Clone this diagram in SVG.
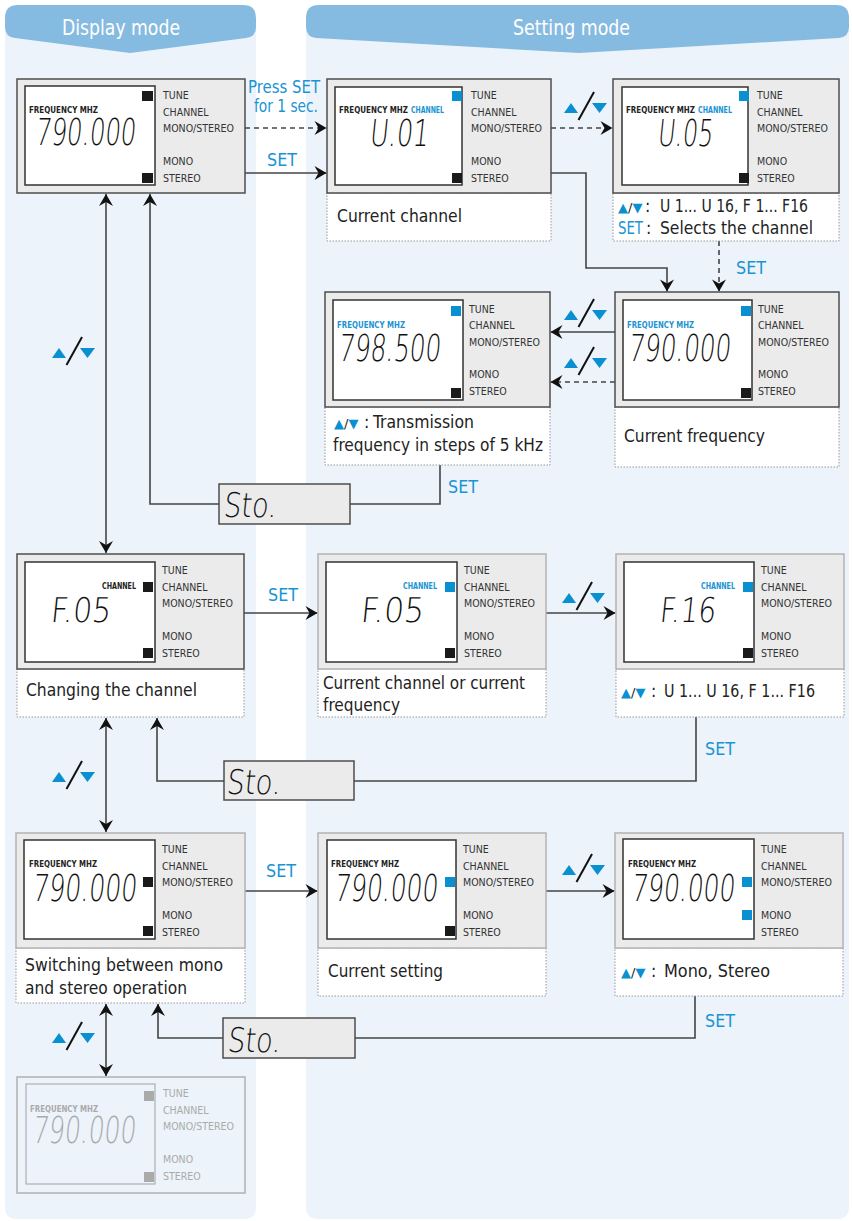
<svg xmlns="http://www.w3.org/2000/svg" width="852" height="1221" viewBox="0 0 852 1221">
<style>
.panel{fill:#ecf3fa}
.banner{fill:#86bbe1}
.c{font-family:'DejaVu Sans Condensed','DejaVu Sans',sans-serif;font-stretch:condensed}
.title{font-size:22px;fill:#fff}
.dev{fill:#ebebeb;stroke:#4d4d4d;stroke-width:1.5}
.dev2{fill:#ebebeb;stroke:#b3b3b3;stroke-width:1.5}
.devf{fill:#ecf3fa;stroke:#b0b0b0;stroke-width:1.5}
.lcd{fill:#fff;stroke:#333;stroke-width:1.5}
.lcdf{fill:#ecf3fa;stroke:#b0b0b0;stroke-width:1.2}
.lbl{font-size:10.5px;fill:#333}
.lblf{font-size:10.5px;fill:#aaa}
.fq{font-size:8.5px;font-weight:bold;fill:#222}
.fqb{font-size:8.5px;font-weight:bold;fill:#1a93d3}
.fqf{font-size:8.5px;font-weight:bold;fill:#aaa}
.seg{font-family:'DejaVu Sans',sans-serif;font-weight:200;font-size:37px;fill:#111}
.segs{font-family:'DejaVu Sans',sans-serif;font-weight:200;font-size:34px;fill:#111}
.segf{font-family:'DejaVu Sans',sans-serif;font-weight:200;font-size:37px;fill:#aaa}
.cap{fill:#fff;stroke:#999;stroke-width:1;stroke-dasharray:1.5 1.5}
.ct{font-size:17.5px;fill:#222}
.tri{font-family:'DejaVu Sans',sans-serif;font-size:13px}
.set{font-size:18px;fill:#1a93d3}
.k{fill:#1a1a1a}
.b{fill:#0a8fd0}
.g{fill:#aaa}
.conn{fill:none;stroke:#444;stroke-width:1.6}
.dash{stroke-dasharray:5 4}
.arr{marker-end:url(#ah)}
.arr2{marker-start:url(#ah);marker-end:url(#ah)}
.sto{fill:#ebebeb;stroke:#4d4d4d;stroke-width:1.5}
</style>
<defs>
<marker id="ah" viewBox="-13 -8 14 16" refX="0" refY="0" markerWidth="14" markerHeight="16" markerUnits="userSpaceOnUse" orient="auto-start-reverse"><path d="M0,0 L-12,-7 L-8,0 L-12,7 Z" fill="#111"/></marker>
<symbol id="ud" viewBox="0 0 44 28" overflow="visible">
<polygon points="0,21 7,11 14,21" fill="#0a8fd0"/>
<line x1="14.5" y1="28" x2="30" y2="0" stroke="#111" stroke-width="2"/>
<polygon points="28,11 43,11 35.5,21" fill="#0a8fd0"/>
</symbol>
</defs>

<rect width="852" height="1221" fill="#fff"/>
<g id="panels">
<path class="panel" d="M5,20 V1207 Q5,1219 17,1219 H244 Q256,1219 256,1207 V20 Z"/>
<path class="panel" d="M306,20 V1207 Q306,1219 318,1219 H837 Q849,1219 849,1207 V20 Z"/>
<path class="banner" d="M5,18 Q5,5 18,5 L243,5 Q256,5 256,18 L256,27 Q256,37 246,38 L130,53 L15,38 Q5,37 5,27 Z"/>
<path class="banner" d="M306,18 Q306,5 319,5 L836,5 Q849,5 849,18 L849,27 Q849,37 839,38 L579,53 L316,38 Q306,37 306,27 Z"/>
<text class="c title" x="62" y="35" textLength="118" lengthAdjust="spacingAndGlyphs">Display mode</text>
<text class="c title" x="513" y="35" textLength="117" lengthAdjust="spacingAndGlyphs">Setting mode</text>
</g>

<g id="connectors">
<path class="conn dash arr" d="M245,128 H326.5"/>
<path class="conn arr" d="M245,173 H326.5"/>
<path class="conn dash arr" d="M551,128 H612.5"/>
<path class="conn arr" d="M551,173 H586 V268 H667 V291.5"/>
<path class="conn dash arr" d="M719,241 V291.5"/>
<path class="conn arr" d="M615,332 H550.5"/>
<path class="conn dash arr" d="M615,382 H550.5"/>
<path class="conn" d="M440,465 V504 H350"/>
<path class="conn arr" d="M219,504 H150 V194"/>
<path class="conn arr2" d="M106,194 V553"/>
<path class="conn arr" d="M244,613 H317.5"/>
<path class="conn arr" d="M546,613 H615.5"/>
<path class="conn" d="M696,717 V781 H354"/>
<path class="conn arr" d="M224,781 H157 V718"/>
<path class="conn arr2" d="M106,718 V832"/>
<path class="conn arr" d="M245,891 H317.5"/>
<path class="conn arr" d="M546,891 H614.5"/>
<path class="conn" d="M695,996 V1038 H355"/>
<path class="conn arr" d="M223,1038 H158 V1004"/>
<path class="conn arr2" d="M106,1004 V1076"/>
</g>

<g id="connector-labels">
<text class="c set" x="248" y="93" textLength="72" lengthAdjust="spacingAndGlyphs">Press SET</text>
<text class="c set" x="254" y="112" textLength="64" lengthAdjust="spacingAndGlyphs">for 1 sec.</text>
<text class="c set" x="267" y="166" textLength="30" lengthAdjust="spacingAndGlyphs">SET</text>
<text class="c set" x="736" y="274" textLength="30" lengthAdjust="spacingAndGlyphs">SET</text>
<text class="c set" x="448" y="493" textLength="30" lengthAdjust="spacingAndGlyphs">SET</text>
<text class="c set" x="268" y="601" textLength="30" lengthAdjust="spacingAndGlyphs">SET</text>
<text class="c set" x="705" y="755" textLength="30" lengthAdjust="spacingAndGlyphs">SET</text>
<text class="c set" x="266" y="877" textLength="30" lengthAdjust="spacingAndGlyphs">SET</text>
<text class="c set" x="705" y="1027" textLength="30" lengthAdjust="spacingAndGlyphs">SET</text>
<use href="#ud" x="564" y="92" width="44" height="28"/>
<use href="#ud" x="564" y="299" width="44" height="28"/>
<use href="#ud" x="564" y="347" width="44" height="28"/>
<use href="#ud" x="52" y="337" width="44" height="28"/>
<use href="#ud" x="562" y="582" width="44" height="28"/>
<use href="#ud" x="52" y="761" width="44" height="28"/>
<use href="#ud" x="562" y="854" width="44" height="28"/>
<use href="#ud" x="52" y="1022" width="44" height="28"/>
</g>

<g id="sto1">
<rect class="sto" x="219" y="484" width="131" height="40"/>
<g transform="translate(223,517) skewX(-6)"><text class="segs" x="0" y="0" textLength="53" lengthAdjust="spacingAndGlyphs">Sto.</text></g>
</g>
<g id="sto2">
<rect class="sto" x="224" y="761" width="130" height="39"/>
<g transform="translate(226,794) skewX(-6)"><text class="segs" x="0" y="0" textLength="54" lengthAdjust="spacingAndGlyphs">Sto.</text></g>
</g>
<g id="sto3">
<rect class="sto" x="223" y="1018" width="132" height="40"/>
<g transform="translate(227,1052) skewX(-6)"><text class="segs" x="0" y="0" textLength="53" lengthAdjust="spacingAndGlyphs">Sto.</text></g>
</g>

<g id="d1-display-frequency">
<rect class="dev" x="17" y="79" width="228" height="114"/>
<rect class="lcd" x="25" y="86" width="130" height="99"/>
<rect class="k" x="142" y="91" width="11" height="10"/>
<rect class="k" x="142" y="173" width="11" height="10"/>
<text class="c fq" x="29" y="113" textLength="69" lengthAdjust="spacingAndGlyphs">FREQUENCY MHZ</text>
<g transform="translate(35,145) skewX(-6)"><text class="seg" x="0" y="0" textLength="100" lengthAdjust="spacingAndGlyphs">790.000</text></g>
<text class="c lbl"><tspan x="163" y="99">TUNE</tspan><tspan x="163" y="115.5">CHANNEL</tspan><tspan x="163" y="132">MONO/STEREO</tspan><tspan x="163" y="164.5">MONO</tspan><tspan x="163" y="181.5">STEREO</tspan></text>
</g>

<g id="d2-current-channel">
<rect class="cap" x="327" y="193" width="224" height="48"/>
<rect class="dev" x="327" y="79" width="224" height="114"/>
<rect class="lcd" x="335" y="87" width="127" height="98"/>
<rect class="b" x="452" y="91" width="10" height="10"/>
<rect class="k" x="452" y="173" width="10" height="10"/>
<text class="c fq" x="339" y="113" textLength="69" lengthAdjust="spacingAndGlyphs">FREQUENCY MHZ</text>
<text class="c fqb" x="411" y="113" textLength="33" lengthAdjust="spacingAndGlyphs">CHANNEL</text>
<g transform="translate(369,146) skewX(-6)"><text class="seg" x="0" y="0" textLength="59" lengthAdjust="spacingAndGlyphs">U.01</text></g>
<text class="c lbl"><tspan x="471" y="99">TUNE</tspan><tspan x="471" y="115.5">CHANNEL</tspan><tspan x="471" y="132">MONO/STEREO</tspan><tspan x="471" y="164.5">MONO</tspan><tspan x="471" y="181.5">STEREO</tspan></text>
<text class="c ct" x="337" y="222" textLength="125" lengthAdjust="spacingAndGlyphs">Current channel</text>
</g>

<g id="d3-channel-select">
<rect class="cap" x="613" y="193" width="226" height="48"/>
<rect class="dev" x="613" y="79" width="226" height="114"/>
<rect class="lcd" x="622" y="87" width="126" height="98"/>
<rect class="b" x="739" y="91" width="10" height="10"/>
<rect class="k" x="739" y="173" width="10" height="10"/>
<text class="c fq" x="626" y="113" textLength="69" lengthAdjust="spacingAndGlyphs">FREQUENCY MHZ</text>
<text class="c fqb" x="698" y="113" textLength="34" lengthAdjust="spacingAndGlyphs">CHANNEL</text>
<g transform="translate(657,146) skewX(-6)"><text class="seg" x="0" y="0" textLength="55" lengthAdjust="spacingAndGlyphs">U.05</text></g>
<text class="c lbl"><tspan x="757" y="99">TUNE</tspan><tspan x="757" y="115.5">CHANNEL</tspan><tspan x="757" y="132">MONO/STEREO</tspan><tspan x="757" y="164.5">MONO</tspan><tspan x="757" y="181.5">STEREO</tspan></text>
<text class="tri" x="618" y="212"><tspan fill="#0a8fd0">▲</tspan><tspan fill="#222">/</tspan><tspan fill="#0a8fd0">▼</tspan></text>
<text class="c ct" x="645" y="212">:</text>
<text class="c ct" x="660" y="212" textLength="148" lengthAdjust="spacingAndGlyphs">U 1... U 16, F 1... F16</text>
<text class="c ct" x="618" y="234" textLength="25" lengthAdjust="spacingAndGlyphs" style="fill:#1a93d3">SET</text>
<text class="c ct" x="646" y="234">:</text>
<text class="c ct" x="660" y="234" textLength="153" lengthAdjust="spacingAndGlyphs">Selects the channel</text>
</g>

<g id="d4-transmission-frequency">
<rect class="cap" x="325" y="407" width="225" height="58"/>
<rect class="dev" x="325" y="292" width="225" height="115"/>
<rect class="lcd" x="333" y="300" width="130" height="100"/>
<rect class="b" x="451" y="306" width="10" height="10"/>
<rect class="k" x="451" y="388" width="10" height="10"/>
<text class="c fqb" x="337" y="328" textLength="68" lengthAdjust="spacingAndGlyphs">FREQUENCY MHZ</text>
<g transform="translate(338,361) skewX(-6)"><text class="seg" x="0" y="0" textLength="102" lengthAdjust="spacingAndGlyphs">798.500</text></g>
<text class="c lbl"><tspan x="469" y="312.5">TUNE</tspan><tspan x="469" y="329">CHANNEL</tspan><tspan x="469" y="345.5">MONO/STEREO</tspan><tspan x="469" y="378">MONO</tspan><tspan x="469" y="395">STEREO</tspan></text>
<text class="tri" x="334" y="428"><tspan fill="#0a8fd0">▲</tspan><tspan fill="#222">/</tspan><tspan fill="#0a8fd0">▼</tspan></text>
<text class="c ct" x="364" y="428">:</text>
<text class="c ct" x="373" y="428" textLength="101" lengthAdjust="spacingAndGlyphs">Transmission</text>
<text class="c ct" x="333" y="451" textLength="210" lengthAdjust="spacingAndGlyphs">frequency in steps of 5 kHz</text>
</g>

<g id="d5-current-frequency">
<rect class="cap" x="615" y="407" width="224" height="60"/>
<rect class="dev" x="615" y="292" width="224" height="115"/>
<rect class="lcd" x="623" y="300" width="129" height="100"/>
<rect class="b" x="741" y="306" width="10" height="10"/>
<rect class="k" x="741" y="388" width="10" height="10"/>
<text class="c fqb" x="627" y="328" textLength="67" lengthAdjust="spacingAndGlyphs">FREQUENCY MHZ</text>
<g transform="translate(628,361) skewX(-6)"><text class="seg" x="0" y="0" textLength="102" lengthAdjust="spacingAndGlyphs">790.000</text></g>
<text class="c lbl"><tspan x="758" y="312.5">TUNE</tspan><tspan x="758" y="329">CHANNEL</tspan><tspan x="758" y="345.5">MONO/STEREO</tspan><tspan x="758" y="378">MONO</tspan><tspan x="758" y="395">STEREO</tspan></text>
<text class="c ct" x="624" y="442" textLength="141" lengthAdjust="spacingAndGlyphs">Current frequency</text>
</g>

<g id="d6-changing-channel">
<rect class="cap" x="17" y="669" width="227" height="48"/>
<rect class="dev" x="17" y="554" width="227" height="115"/>
<rect class="lcd" x="25" y="562" width="130" height="100"/>
<rect class="k" x="143" y="582" width="10" height="10"/>
<rect class="k" x="143" y="648" width="10" height="10"/>
<text class="c fq" x="102" y="589" textLength="34" lengthAdjust="spacingAndGlyphs">CHANNEL</text>
<g transform="translate(50,622) skewX(-6)"><text class="segs" x="0" y="0" textLength="60" lengthAdjust="spacingAndGlyphs">F.05</text></g>
<text class="c lbl"><tspan x="162" y="574">TUNE</tspan><tspan x="162" y="590.5">CHANNEL</tspan><tspan x="162" y="607">MONO/STEREO</tspan><tspan x="162" y="639.5">MONO</tspan><tspan x="162" y="656.5">STEREO</tspan></text>
<text class="c ct" x="26" y="696" textLength="171" lengthAdjust="spacingAndGlyphs">Changing the channel</text>
</g>

<g id="d7-current-channel-or-frequency">
<rect class="cap" x="318" y="669" width="228" height="48"/>
<rect class="dev2" x="318" y="554" width="228" height="115"/>
<rect class="lcd" x="326" y="562" width="131" height="100"/>
<rect class="b" x="445" y="582" width="10" height="10"/>
<rect class="k" x="445" y="648" width="10" height="10"/>
<text class="c fqb" x="403" y="589" textLength="34" lengthAdjust="spacingAndGlyphs">CHANNEL</text>
<g transform="translate(360,622) skewX(-6)"><text class="segs" x="0" y="0" textLength="63" lengthAdjust="spacingAndGlyphs">F.05</text></g>
<text class="c lbl"><tspan x="464" y="574">TUNE</tspan><tspan x="464" y="590.5">CHANNEL</tspan><tspan x="464" y="607">MONO/STEREO</tspan><tspan x="464" y="639.5">MONO</tspan><tspan x="464" y="656.5">STEREO</tspan></text>
<text class="c ct" x="323" y="689" textLength="202" lengthAdjust="spacingAndGlyphs">Current channel or current</text>
<text class="c ct" x="323" y="711" textLength="77" lengthAdjust="spacingAndGlyphs">frequency</text>
</g>

<g id="d8-channel-select">
<rect class="cap" x="616" y="669" width="228" height="48"/>
<rect class="dev2" x="616" y="554" width="228" height="115"/>
<rect class="lcd" x="624" y="562" width="130" height="100"/>
<rect class="b" x="743" y="582" width="10" height="10"/>
<rect class="k" x="743" y="648" width="10" height="10"/>
<text class="c fqb" x="701" y="589" textLength="34" lengthAdjust="spacingAndGlyphs">CHANNEL</text>
<g transform="translate(659,622) skewX(-6)"><text class="segs" x="0" y="0" textLength="56" lengthAdjust="spacingAndGlyphs">F.16</text></g>
<text class="c lbl"><tspan x="761" y="574">TUNE</tspan><tspan x="761" y="590.5">CHANNEL</tspan><tspan x="761" y="607">MONO/STEREO</tspan><tspan x="761" y="639.5">MONO</tspan><tspan x="761" y="656.5">STEREO</tspan></text>
<text class="tri" x="621" y="697"><tspan fill="#0a8fd0">▲</tspan><tspan fill="#222">/</tspan><tspan fill="#0a8fd0">▼</tspan></text>
<text class="c ct" x="651" y="697">:</text>
<text class="c ct" x="664" y="697" textLength="151" lengthAdjust="spacingAndGlyphs">U 1... U 16, F 1... F16</text>
</g>

<g id="d9-mono-stereo">
<rect class="cap" x="16" y="948" width="229" height="55"/>
<rect class="dev2" x="16" y="833" width="229" height="115"/>
<rect class="lcd" x="24" y="840" width="131" height="99"/>
<rect class="k" x="143" y="877" width="10" height="10"/>
<rect class="k" x="143" y="926" width="10" height="10"/>
<text class="c fq" x="29" y="867" textLength="68" lengthAdjust="spacingAndGlyphs">FREQUENCY MHZ</text>
<g transform="translate(32,901) skewX(-6)"><text class="seg" x="0" y="0" textLength="104" lengthAdjust="spacingAndGlyphs">790.000</text></g>
<text class="c lbl"><tspan x="162" y="853">TUNE</tspan><tspan x="162" y="869.5">CHANNEL</tspan><tspan x="162" y="886">MONO/STEREO</tspan><tspan x="162" y="918.5">MONO</tspan><tspan x="162" y="935.5">STEREO</tspan></text>
<text class="c ct" x="25" y="971" textLength="198" lengthAdjust="spacingAndGlyphs">Switching between mono</text>
<text class="c ct" x="25" y="994" textLength="162" lengthAdjust="spacingAndGlyphs">and stereo operation</text>
</g>

<g id="d10-current-setting">
<rect class="cap" x="318" y="948" width="228" height="48"/>
<rect class="dev2" x="318" y="833" width="228" height="115"/>
<rect class="lcd" x="327" y="840" width="129" height="99"/>
<rect class="b" x="445" y="877" width="10" height="10"/>
<rect class="k" x="445" y="926" width="10" height="10"/>
<text class="c fq" x="331" y="867" textLength="68" lengthAdjust="spacingAndGlyphs">FREQUENCY MHZ</text>
<g transform="translate(334,901) skewX(-6)"><text class="seg" x="0" y="0" textLength="103" lengthAdjust="spacingAndGlyphs">790.000</text></g>
<text class="c lbl"><tspan x="463" y="853">TUNE</tspan><tspan x="463" y="869.5">CHANNEL</tspan><tspan x="463" y="886">MONO/STEREO</tspan><tspan x="463" y="918.5">MONO</tspan><tspan x="463" y="935.5">STEREO</tspan></text>
<text class="c ct" x="328" y="977" textLength="115" lengthAdjust="spacingAndGlyphs">Current setting</text>
</g>

<g id="d11-mono-stereo-select">
<rect class="cap" x="615" y="948" width="228" height="48"/>
<rect class="dev2" x="615" y="833" width="228" height="115"/>
<rect class="lcd" x="623" y="839" width="131" height="100"/>
<rect class="b" x="742" y="877" width="10" height="10"/>
<rect class="b" x="742" y="910" width="10" height="10"/>
<text class="c fq" x="628" y="867" textLength="68" lengthAdjust="spacingAndGlyphs">FREQUENCY MHZ</text>
<g transform="translate(631,901) skewX(-6)"><text class="seg" x="0" y="0" textLength="103" lengthAdjust="spacingAndGlyphs">790.000</text></g>
<text class="c lbl"><tspan x="761" y="853">TUNE</tspan><tspan x="761" y="869.5">CHANNEL</tspan><tspan x="761" y="886">MONO/STEREO</tspan><tspan x="761" y="918.5">MONO</tspan><tspan x="761" y="935.5">STEREO</tspan></text>
<text class="tri" x="621" y="977"><tspan fill="#0a8fd0">▲</tspan><tspan fill="#222">/</tspan><tspan fill="#0a8fd0">▼</tspan></text>
<text class="c ct" x="651" y="977">:</text>
<text class="c ct" x="664" y="977" textLength="106" lengthAdjust="spacingAndGlyphs">Mono, Stereo</text>
</g>

<g id="d12-next-faded">
<rect class="devf" x="17" y="1077" width="228" height="116"/>
<rect class="lcdf" x="26" y="1084" width="129" height="100"/>
<rect class="g" x="144" y="1091" width="10" height="10"/>
<rect class="g" x="144" y="1172" width="10" height="10"/>
<text class="c fqf" x="30" y="1112" textLength="68" lengthAdjust="spacingAndGlyphs">FREQUENCY MHZ</text>
<g transform="translate(32,1143) skewX(-6)"><text class="segf" x="0" y="0" textLength="103" lengthAdjust="spacingAndGlyphs">790.000</text></g>
<text class="c lblf"><tspan x="163" y="1097">TUNE</tspan><tspan x="163" y="1113.5">CHANNEL</tspan><tspan x="163" y="1130">MONO/STEREO</tspan><tspan x="163" y="1162.5">MONO</tspan><tspan x="163" y="1179.5">STEREO</tspan></text>
</g>
</svg>
